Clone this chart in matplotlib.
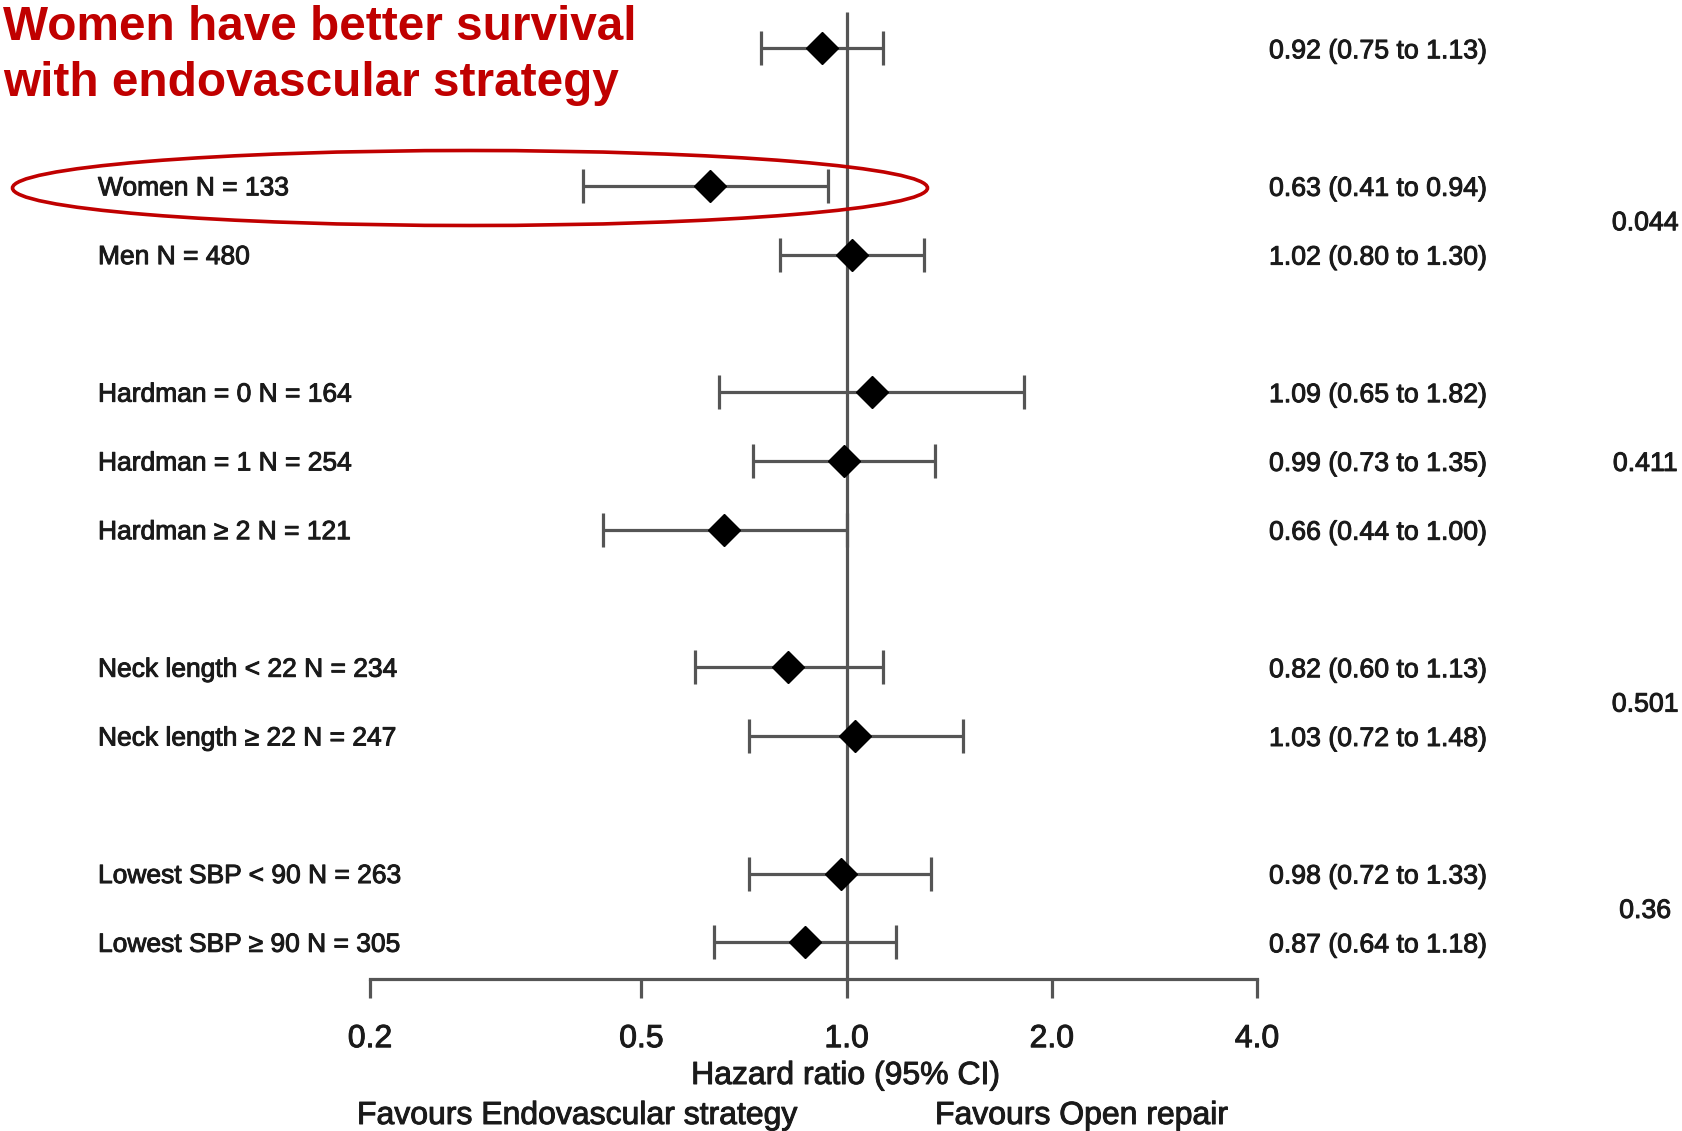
import matplotlib
matplotlib.use("Agg")
import matplotlib.pyplot as plt
import matplotlib.patheffects as pe
from matplotlib.patches import Ellipse
from matplotlib.transforms import blended_transform_factory

plt.rcParams['font.family'] = ['Liberation Sans', 'DejaVu Sans']

# ---- data ----
labels = ["", "Women N = 133", "Men N = 480",
          "Hardman = 0 N = 164", "Hardman = 1 N = 254", "Hardman \u2265 2 N = 121",
          "Neck length < 22 N = 234", "Neck length \u2265 22 N = 247",
          "Lowest SBP < 90 N = 263", "Lowest SBP \u2265 90 N = 305"]
hr = [0.92, 0.63, 1.02, 1.09, 0.99, 0.66, 0.82, 1.03, 0.98, 0.87]
lo = [0.75, 0.41, 0.80, 0.65, 0.73, 0.44, 0.60, 0.72, 0.72, 0.64]
hi = [1.13, 0.94, 1.30, 1.82, 1.35, 1.00, 1.13, 1.48, 1.33, 1.18]
row_pos = [0, 2, 3, 5, 6, 7, 9, 10, 12, 13]
p_values = ["0.044", "0.411", "0.501", "0.36"]
p_pos = [2.5, 6, 9.5, 12.5]
xticks = [0.2, 0.5, 1.0, 2.0, 4.0]
xtick_labels = ["0.2", "0.5", "1.0", "2.0", "4.0"]

W, H = 1682, 1131
fig = plt.figure(figsize=(W / 100, H / 100), dpi=100)

ax_left, ax_right, ax_bottom_px = 370, 1257, 979
ax = fig.add_axes([ax_left / W, 1 - ax_bottom_px / H, (ax_right - ax_left) / W, ax_bottom_px / H])
ax.set_xscale('log')
ax.set_xlim(0.2, 4.0)
unit = 68.77
row0 = 48.3
ax.set_ylim((ax_bottom_px - row0) / unit, (0 - row0) / unit)

line_col = '#555555'
text_col = '#1a1a1a'
thick = [pe.withStroke(linewidth=0.7, foreground=text_col)]

for s in ['top', 'left', 'right']:
    ax.spines[s].set_visible(False)
ax.spines['bottom'].set_color(line_col)
ax.spines['bottom'].set_linewidth(2.3)
ax.set_yticks([])
ax.set_xticks(xticks)
ax.set_xticklabels(xtick_labels)
ax.xaxis.set_minor_locator(matplotlib.ticker.NullLocator())
ax.tick_params(axis='x', direction='out', length=13.5, width=2.3, color=line_col,
               labelsize=23, labelcolor=text_col, pad=19)
for t in ax.get_xticklabels():
    t.set_path_effects(thick)
ax.patch.set_alpha(0)

# reference line
ax.vlines(1.0, -0.53, (ax_bottom_px - row0) / unit, color=line_col, lw=2.3, zorder=2)

# error bars and diamonds
ax.errorbar(hr, row_pos, xerr=[[h - l for h, l in zip(hr, lo)], [u - h for h, u in zip(hr, hi)]],
            fmt='D', color='black', ms=16,
            ecolor=line_col, elinewidth=2.3, capsize=12.5, capthick=2.3, zorder=3, clip_on=False)

tr = blended_transform_factory(fig.transFigure, ax.transData)
for lab, y in zip(labels, row_pos):
    if lab:
        ax.text(98 / W, y, lab, transform=tr, fontsize=19, color=text_col,
                va='center_baseline', ha='left', path_effects=thick)
for h, l, u, y in zip(hr, lo, hi, row_pos):
    ax.text(1269 / W, y, f"{h:.2f} ({l:.2f} to {u:.2f})", transform=tr, fontsize=19.2,
            color=text_col, va='center_baseline', ha='left', path_effects=thick)
for p, y in zip(p_values, p_pos):
    ax.text(1645 / W, y, p, transform=tr, fontsize=19.2, color=text_col,
            va='center_baseline', ha='center', path_effects=thick)

# axis label & favours texts
fig.text(846 / W, 1 - 1076 / H, "Hazard ratio (95% CI)", fontsize=23, color=text_col,
         ha='center', va='center', path_effects=thick)
fig.text(357 / W, 1 - 1116 / H, "Favours Endovascular strategy", fontsize=23, color=text_col,
         ha='left', va='center', path_effects=thick)
fig.text(935 / W, 1 - 1116 / H, "Favours Open repair", fontsize=23, color=text_col,
         ha='left', va='center', path_effects=thick)

# title
red = '#C00000'
fig.text(3 / W, 1 - 40 / H, "Women have better survival", fontsize=34.4, color=red,
         fontweight='bold', ha='left', va='baseline')
fig.text(3 / W, 1 - 96 / H, "with endovascular strategy", fontsize=34.4, color=red,
         fontweight='bold', ha='left', va='baseline')

# highlight ellipse
ell = Ellipse((470 / W, 1 - 188 / H), 915 / W, 75 / H, transform=fig.transFigure,
              fill=False, edgecolor=red, lw=2.6, zorder=5)
fig.patches.append(ell)

fig.savefig("out.png", dpi=100)
